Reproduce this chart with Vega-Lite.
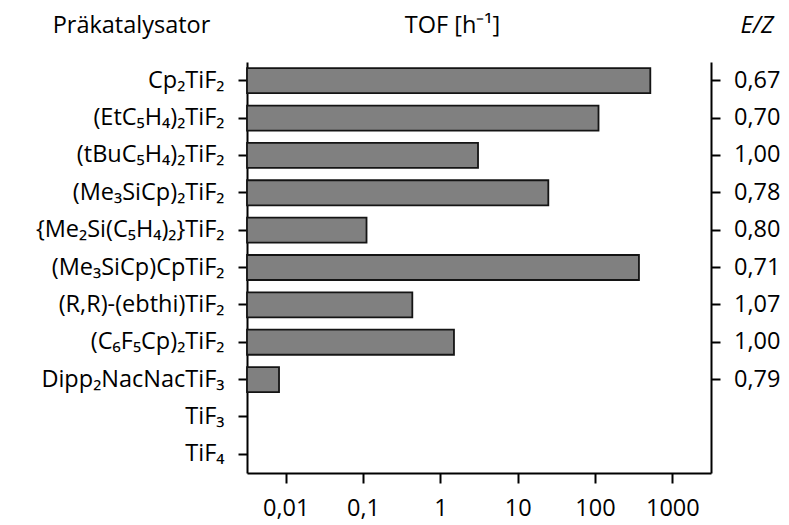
{
  "$schema": "https://vega.github.io/schema/vega-lite/v6.json",
  "autosize": "none",
  "width": 464,
  "height": 411,
  "padding": {"left": 247, "top": 62, "right": 78, "bottom": 52},
  "background": "white",
  "config": {
    "view": {"stroke": null},
    "font": "Open Sans",
    "locale": {"number": {"decimal": ",", "thousands": ".", "grouping": [3], "currency": ["", " €"]}},
    "axis": {
      "grid": false,
      "domainColor": "black",
      "tickColor": "black",
      "domainWidth": 2,
      "tickWidth": 2,
      "labelColor": "black",
      "titleColor": "black",
      "labelFont": "Open Sans",
      "labelFontSize": 23.5,
      "titleFont": "Open Sans",
      "titleFontSize": 23.5,
      "titleFontWeight": "normal",
      "labelOverlap": false,
      "labelLimit": 0
    }
  },
  "data": {
    "values": [
      {"name": "Cp₂TiF₂", "tof": 519, "ez": 0.67},
      {"name": "(EtC₅H₄)₂TiF₂", "tof": 111, "ez": 0.70},
      {"name": "(tBuC₅H₄)₂TiF₂", "tof": 3.07, "ez": 1.00},
      {"name": "(Me₃SiCp)₂TiF₂", "tof": 24.9, "ez": 0.78},
      {"name": "{Me₂Si(C₅H₄)₂}TiF₂", "tof": 0.111, "ez": 0.80},
      {"name": "(Me₃SiCp)CpTiF₂", "tof": 370, "ez": 0.71},
      {"name": "(R,R)-(ebthi)TiF₂", "tof": 0.434, "ez": 1.07},
      {"name": "(C₆F₅Cp)₂TiF₂", "tof": 1.50, "ez": 1.00},
      {"name": "Dipp₂NacNacTiF₃", "tof": 0.0082, "ez": 0.79},
      {"name": "TiF₃", "tof": null, "ez": null},
      {"name": "TiF₄", "tof": null, "ez": null}
    ]
  },
  "layer": [
    {
      "transform": [{"filter": "isValid(datum.tof)"}],
      "mark": {"type": "bar", "fill": "#808080", "stroke": "#141414", "strokeWidth": 1.8},
      "encoding": {
        "y": {
          "field": "name", "type": "nominal", "sort": null,
          "scale": {
            "domain": ["Cp₂TiF₂", "(EtC₅H₄)₂TiF₂", "(tBuC₅H₄)₂TiF₂", "(Me₃SiCp)₂TiF₂", "{Me₂Si(C₅H₄)₂}TiF₂", "(Me₃SiCp)CpTiF₂", "(R,R)-(ebthi)TiF₂", "(C₆F₅Cp)₂TiF₂", "Dipp₂NacNacTiF₃", "TiF₃", "TiF₄"],
            "paddingInner": 0.33, "paddingOuter": 0.165
          },
          "axis": {
            "orient": "left", "title": "Präkatalysator", "titleAngle": 0,
            "titleX": -116, "titleY": -29.5, "titleAlign": "center", "titleBaseline": "alphabetic",
            "tickSize": 9, "labelPadding": 14
          }
        },
        "x": {
          "field": "tof", "type": "quantitative",
          "scale": {"type": "log", "domain": [0.00316, 3162], "nice": false},
          "axis": {
            "values": [0.01, 0.1, 1, 10, 100, 1000], "format": "~g",
            "tickSize": 10, "labelPadding": 13,
            "title": "TOF [h⁻¹]", "titleX": 205, "titleY": -440.5,
            "titleAlign": "center", "titleBaseline": "alphabetic"
          }
        },
        "x2": {"datum": 0.00316}
      }
    },
    {
      "transform": [{"filter": "isValid(datum.ez)"}],
      "mark": {"type": "text", "align": "left", "baseline": "middle", "dx": 23, "fontSize": 23.5, "font": "Open Sans", "color": "black"},
      "encoding": {
        "y": {
          "field": "name", "type": "nominal", "sort": null,
          "scale": {
            "domain": ["Cp₂TiF₂", "(EtC₅H₄)₂TiF₂", "(tBuC₅H₄)₂TiF₂", "(Me₃SiCp)₂TiF₂", "{Me₂Si(C₅H₄)₂}TiF₂", "(Me₃SiCp)CpTiF₂", "(R,R)-(ebthi)TiF₂", "(C₆F₅Cp)₂TiF₂", "Dipp₂NacNacTiF₃", "TiF₃", "TiF₄"],
            "paddingInner": 0.33, "paddingOuter": 0.165
          },
          "axis": {
            "orient": "right", "labels": false,
            "values": ["Cp₂TiF₂", "(EtC₅H₄)₂TiF₂", "(tBuC₅H₄)₂TiF₂", "(Me₃SiCp)₂TiF₂", "{Me₂Si(C₅H₄)₂}TiF₂", "(Me₃SiCp)CpTiF₂", "(R,R)-(ebthi)TiF₂", "(C₆F₅Cp)₂TiF₂", "Dipp₂NacNacTiF₃"],
            "tickSize": 9,
            "title": "E/Z", "titleFontStyle": "italic", "titleAngle": 0,
            "titleX": 45.5, "titleY": -29.5, "titleAlign": "center", "titleBaseline": "alphabetic"
          }
        },
        "x": {"value": "width"},
        "text": {"field": "ez", "type": "quantitative", "format": ".2f"}
      }
    }
  ],
  "resolve": {"axis": {"y": "independent"}}
}
